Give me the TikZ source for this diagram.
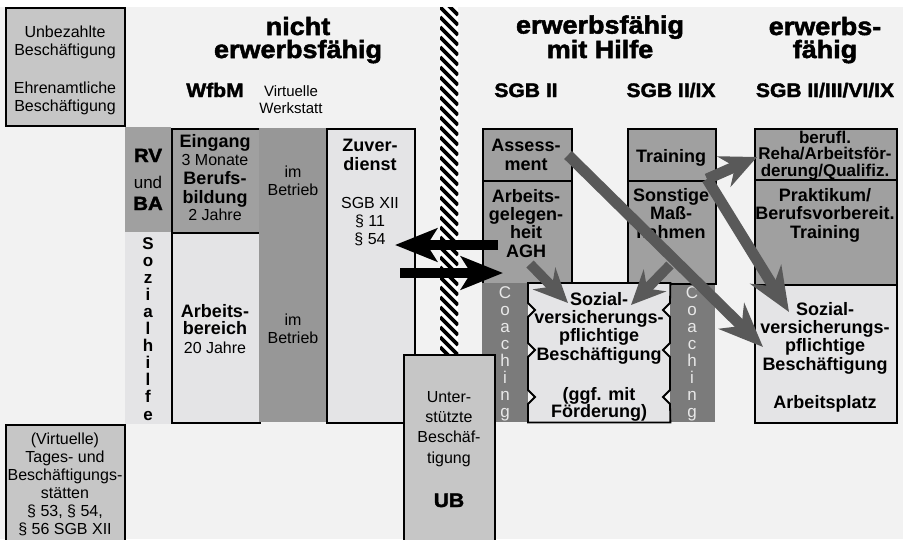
\documentclass[tikz,border=0pt]{standalone}
\usepackage{fontspec}
\setmainfont{Liberation Sans}
\newfontfamily\hvy{Liberation Sans Bold}[FakeBold=2,FakeStretch=1.08]
\usetikzlibrary{arrows.meta}
\definecolor{bg}{HTML}{F2F2F2}
\definecolor{light}{HTML}{E4E4E6}
\definecolor{mid}{HTML}{C6C6C6}
\definecolor{dark}{HTML}{A0A0A0}
\definecolor{betrieb}{HTML}{979797}
\definecolor{coach}{HTML}{7B7B7B}
\definecolor{arrowgray}{HTML}{595959}
\definecolor{coachtxt}{HTML}{E8E8E8}
\newcommand\fs[2]{\fontsize{#1}{#2}\selectfont}
\begin{document}
\begin{tikzpicture}[x=1pt,y=-1pt,
  box/.style={draw=black,line width=1.8pt,inner sep=0pt,anchor=north west},
  noborder/.style={draw=none,inner sep=0pt,anchor=north west},
  txt/.style={inner sep=0pt,align=center,anchor=base},
  reg/.style={font=\fs{16}{18}},
  bld/.style={font=\bfseries\fs{18}{18.3}},
  hdtxt/.style={font=\hvy\fs{25}{23}},
  subtxt/.style={font=\hvy\fs{19.5}{20}},
  garrow/.style={draw=arrowgray,line width=11pt,-{Stealth[length=44pt,width=36pt,inset=14pt]}},
  gsmall/.style={draw=arrowgray,line width=10pt,-{Stealth[length=34pt,width=31pt,inset=11pt]}},
  barrow/.style={draw=black,line width=10pt,-{Stealth[length=42pt,width=33pt,inset=10pt]}}
]
\path[use as bounding box] (0,0) rectangle (903,539);
\fill[white] (0,0) rectangle (903,539);
\fill[bg] (0,7) rectangle (903,539);

% left column
\node[box,fill=mid,minimum width=119pt,minimum height=118pt] (tl) at (5,7) {};
\node[box,fill=mid,minimum width=119pt,minimum height=125pt] (bl) at (5,424) {};
\node[noborder,fill=dark,minimum width=46pt,minimum height=105pt] (rvu) at (125,127) {};
\node[noborder,fill=light,minimum width=46pt,minimum height=192pt] (rvl) at (125,232) {};

% WfbM
\node[box,fill=dark,minimum width=88pt,minimum height=104pt] (ein) at (171,128) {};
\node[box,fill=light,minimum width=88pt,minimum height=190pt] (arb) at (171,232) {};
\node[noborder,fill=betrieb,minimum width=67pt,minimum height=294pt] (betr) at (259,128) {};
\node[box,fill=light,minimum width=88pt,minimum height=294pt] (zuv) at (326,128) {};

% SGB II
\node[box,fill=dark,minimum width=89pt,minimum height=52pt] (ass) at (482,128) {};
\node[box,fill=dark,minimum width=89pt,minimum height=103pt] (agh) at (482,180) {};
\node[noborder,fill=coach,minimum width=46pt,minimum height=139pt] (coachl) at (482,283) {};
\node[noborder,fill=coach,minimum width=45pt,minimum height=139pt] (coachr) at (670,283) {};
\node[box,fill=dark,minimum width=88pt,minimum height=52pt] (tra) at (627,128) {};
\node[box,fill=dark,minimum width=88pt,minimum height=103pt] (son) at (627,180) {};
\node[noborder,minimum width=142pt,minimum height=139pt] (csoz) at (528,283) {};
\draw[line width=1.8pt,fill=light,line join=miter]
  (csoz.north west) -- (csoz.north east)
  -- (670,303) -- (663,310) -- (670,317)
  -- (670,343) -- (663,350) -- (670,357)
  -- (670,390) -- (663,397) -- (670,404)
  -- (csoz.south east) -- (csoz.south west)
  -- (528,404) -- (535,397) -- (528,390)
  -- (528,357) -- (535,350) -- (528,343)
  -- (528,317) -- (535,310) -- (528,303) -- cycle;

% right column
\node[box,fill=dark,minimum width=142pt,minimum height=51pt] (ber) at (754,128) {};
\node[box,fill=dark,minimum width=142pt,minimum height=105pt] (pra) at (754,179) {};
\node[box,fill=light,minimum width=142pt,minimum height=138pt] (rsoz) at (754,284) {};

% hatched bar
\node[noborder,minimum width=18pt,minimum height=347pt] (hatch) at (440,7) {};
\begin{scope}
\clip (hatch.north west) rectangle (hatch.south east);
\fill[white] (hatch.north west) rectangle (hatch.south east);
\foreach \k in {-3,...,36} \draw[line width=3.6pt] (440,{7+\k*10}) -- (458,{25+\k*10});
\end{scope}

% black arrows
\coordinate (la1) at (498,245);
\coordinate (la2) at (395,245);
\coordinate (ra1) at (400,273);
\coordinate (ra2) at (503,273);
\draw[barrow] (la1) -- (la2);
\draw[barrow] (ra1) -- (ra2);

% UB box
\node[box,fill=mid,minimum width=91pt,minimum height=195pt] (ub) at (403,354) {};

% headings (anchor base = last line)
\node[txt,hdtxt] (h1) at (298,58) {nicht\\erwerbsfähig};
\node[txt,hdtxt] (h2) at (600,58) {erwerbsfähig\\mit Hilfe};
\node[txt,hdtxt] (h3) at (825,58) {erwerbs-\\fähig};
\node[txt,subtxt] (s1) at (215,97) {WfbM};
\node[txt,font=\fs{15}{17}] (s2) at (291,113) {Virtuelle\\Werkstatt};
\node[txt,subtxt] (s3) at (526,97) {SGB II};
\node[txt,subtxt] (s4) at (671,97) {SGB II/IX};
\node[txt,subtxt] (s5) at (825,97) {SGB II/III/VI/IX};

% texts
\node[txt,reg] (t1) at (65,55) {Unbezahlte\\Beschäftigung};
\node[txt,reg] (t2) at (65,111) {Ehrenamtliche\\Beschäftigung};
\node[txt,reg] (t3) at (65,534) {(Virtuelle)\\Tages- und\\Beschäftigungs-\\stätten\\§ 53, § 54,\\§ 56 SGB XII};
\node[txt,font=\hvy\fs{19}{18}] (t4) at (148,162) {RV};
\node[txt,font=\fs{17}{17}] (t5) at (148,188) {und};
\node[txt,font=\hvy\fs{19}{18}] (t6) at (148,210) {BA};
\node[txt,font=\bfseries\fs{17}{17.1}] (t7) at (148,420) {S\\o\\z\\i\\a\\l\\h\\i\\l\\f\\e};
\node[txt,bld] (t8) at (215,147) {Eingang};
\node[txt,reg] (t9) at (215,165) {3 Monate};
\node[txt,bld] (t10) at (215,203) {Berufs-\\bildung};
\node[txt,reg] (t11) at (215,220) {2 Jahre};
\node[txt,font=\bfseries\fs{18}{17}] (t12) at (215,334) {Arbeits-\\bereich};
\node[txt,reg] (t13) at (215,353) {20 Jahre};
\node[txt,reg] (t14) at (293,195) {im\\Betrieb};
\node[txt,reg] (t15) at (293,343) {im\\Betrieb};
\node[txt,bld] (t16) at (370,170) {Zuver-\\dienst};
\node[txt,reg] (t17) at (370,244) {SGB XII\\§ 11\\§ 54};
\node[txt,bld] (t18) at (526,170) {Assess-\\ment};
\node[txt,bld] (t19) at (526,257) {Arbeits-\\gelegen-\\heit\\AGH};
\node[txt,bld] (t20) at (671,162) {Training};
\node[txt,bld] (t21) at (671,238) {Sonstige\\Maß-\\nahmen};
\node[txt,bld] (t22) at (599,360) {Sozial-\\versicherungs-\\pflichtige\\Beschäftigung};
\node[txt,font=\bfseries\fs{18}{17}] (t23) at (599,417) {(ggf. mit\\Förderung)};
\node[txt,font=\fs{17}{17},text=coachtxt] (t24) at (505,417) {C\\o\\a\\c\\h\\i\\n\\g};
\node[txt,font=\fs{17}{17},text=coachtxt] (t25) at (692,417) {C\\o\\a\\c\\h\\i\\n\\g};
\node[txt,font=\fs{16}{20.3}] (t26) at (449,463) {Unter-\\stützte\\Beschäf-\\tigung};
\node[txt,subtxt] (t27) at (449,507) {UB};
\node[txt,font=\bfseries\fs{17}{16.5}] (t28) at (825,176) {berufl.\\Reha/Arbeitsför-\\derung/Qualifiz.};
\node[txt,bld] (t29) at (825,238) {Praktikum/\\Berufsvorbereit.\\Training};
\node[txt,bld] (t30) at (825,370) {Sozial-\\versicherungs-\\pflichtige\\Beschäftigung};
\node[txt,bld] (t31) at (825,408) {Arbeitsplatz};

% gray arrows
\coordinate (a1s) at (568,155);
\coordinate (a1e) at (763,347);
\coordinate (apex) at (707,179);
\coordinate (a2e) at (757,157);
\coordinate (a3e) at (789,312);
\coordinate (a4s) at (530,264);
\coordinate (a4e) at (568,303);
\coordinate (a5s) at (670,265);
\coordinate (a5e) at (631,305);
\draw[garrow] (a1s) -- (a1e);
\draw[garrow,-{Stealth[length=36pt,width=33pt,inset=12pt]}] (apex) -- (a2e);
\draw[garrow] (apex) -- (a3e);
\draw[gsmall] (a4s) -- (a4e);
\draw[gsmall] (a5s) -- (a5e);
\end{tikzpicture}
\end{document}
